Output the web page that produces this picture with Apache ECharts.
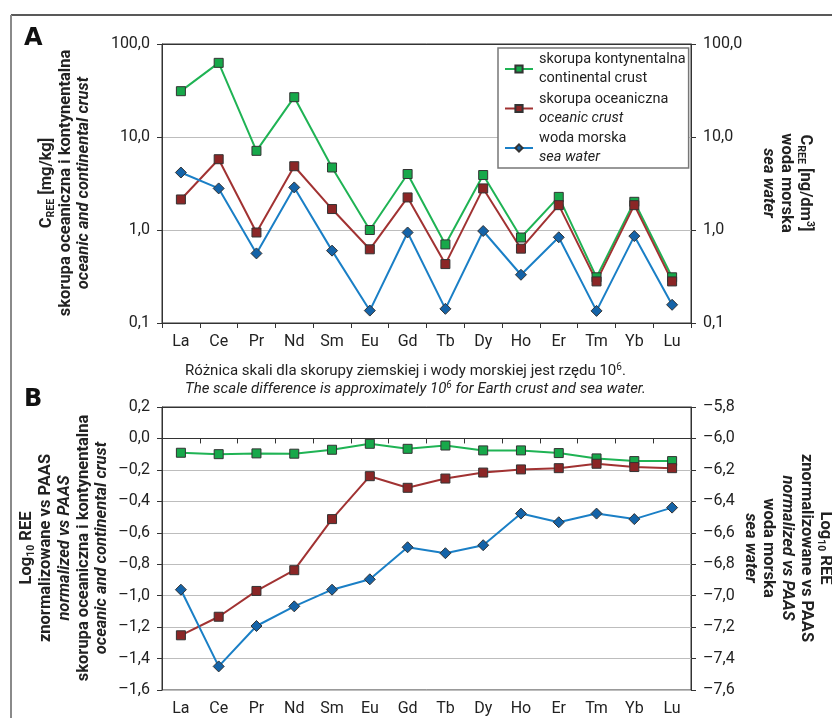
<!DOCTYPE html>
<html>
<head>
<meta charset="utf-8">
<script src="https://cdn.jsdelivr.net/npm/echarts@6/dist/echarts.min.js"></script>
<style>
  html, body { margin: 0; padding: 0; background: #fff; }
  #chart { width: 832px; height: 718px; }
</style>
</head>
<body>
<div id="chart"></div>
<script>
  // rare earth elements on the x axis
  var elements = ['La', 'Ce', 'Pr', 'Nd', 'Sm', 'Eu', 'Gd', 'Tb', 'Dy', 'Ho', 'Er', 'Tm', 'Yb', 'Lu'];

  // panel A: concentrations (crust in mg/kg, sea water in ng/dm3)
  var continentalA = [31.1, 62.7, 7.1, 26.8, 4.7, 1.0, 4.0, 0.70, 3.9, 0.83, 2.27, 0.31, 2.01, 0.31];
  var oceanicA = [2.13, 5.77, 0.94, 4.85, 1.68, 0.62, 2.24, 0.43, 2.8, 0.63, 1.85, 0.28, 1.85, 0.28];
  var seaWaterA = [4.15, 2.8, 0.56, 2.87, 0.60, 0.136, 0.94, 0.142, 0.975, 0.33, 0.835, 0.135, 0.86, 0.157];

  // panel B: log10 REE normalized vs PAAS (sea water on the right axis)
  var continentalB = [-0.091, -0.100, -0.095, -0.097, -0.072, -0.034, -0.066, -0.045, -0.076, -0.076, -0.093, -0.127, -0.144, -0.144];
  var oceanicB = [-1.252, -1.134, -0.970, -0.838, -0.513, -0.240, -0.314, -0.255, -0.217, -0.197, -0.189, -0.161, -0.182, -0.189];
  var seaWaterB = [-6.962, -7.450, -7.193, -7.068, -6.962, -6.896, -6.692, -6.730, -6.679, -6.478, -6.533, -6.478, -6.513, -6.440];

  // axis ranges
  var rangeA = [0.1, 100];
  var rangeBLeft = [-1.6, 0.2];
  var rangeBRight = [-7.6, -5.8];
  var stepB = 0.2;

  var seriesNames = ['skorupa kontynentalna', 'skorupa oceaniczna', 'woda morska'];
  var seriesSecondLine = {
    'skorupa kontynentalna': '{n|continental crust}',
    'skorupa oceaniczna': '{i|oceanic crust}',
    'woda morska': '{i|sea water}'
  };

  // axis titles, one entry per line; each line is a list of pieces [text, italic, kind]
  // kind: '' normal, 'sub' subscript, 'sup' superscript
  var cree = function (unit) { return [['C', false, ''], ['REE', false, 'sub'], [' [' + unit, false, '']]; };
  var log10 = [['Log', false, ''], ['10', false, 'sub'], [' REE', false, '']];
  var titleLeftA = [cree('mg/kg]'), [['skorupa oceaniczna i kontynentalna', false, '']], [['oceanic and continental crust', true, '']]];
  var titleRightA = [cree('ng/dm').concat([['3', false, 'sup'], [']', false, '']]), [['woda morska', false, '']], [['sea water', true, '']]];
  var titleLeftB = [log10, [['znormalizowane vs PAAS', false, '']], [['normalized vs PAAS', true, '']],
                    [['skorupa oceaniczna i kontynentalna', false, '']], [['oceanic and continental crust', true, '']]];
  var titleRightB = [log10, [['znormalizowane vs PAAS', false, '']], [['normalized vs PAAS', true, '']],
                     [['woda morska', false, '']], [['sea water', true, '']]];

  var FONT = "Roboto, 'Liberation Sans', sans-serif";
  var AXIS = '#333';
  var GRID_LINE = '#bdbdbd';
  var TXT = '#222';
  var NAME_SIZE = 16.5;
  var SMALL_SIZE = 10.5;

  var chart = echarts.init(document.getElementById('chart'));
  var measureCtx = document.createElement('canvas').getContext('2d');

  function fmt(v) {
    if (Math.abs(v) < 1e-9) v = 0;
    var s = (Math.round(v * 10) / 10).toFixed(1).replace('.', ',');
    return s.replace('-', '\u2013');
  }

  function fontOf(size, italic) {
    return (italic ? 'italic ' : '') + 'bold ' + size + 'px ' + FONT;
  }

  // one rotated line of an axis title, centred at (x, yc)
  // dir = 1: reads bottom-to-top (left side), dir = -1: reads top-to-bottom (right side)
  function titleLine(pieces, x, yc, dir) {
    var sizes = pieces.map(function (p) { return p[2] ? SMALL_SIZE : NAME_SIZE; });
    var widths = pieces.map(function (p, i) {
      measureCtx.font = fontOf(sizes[i], p[1]);
      return measureCtx.measureText(p[0]).width;
    });
    var total = widths.reduce(function (a, b) { return a + b; }, 0);
    var pos = -total / 2;
    return pieces.map(function (p, i) {
      var shift = p[2] === 'sub' ? 4 : (p[2] === 'sup' ? -5 : 0);
      var el = {
        type: 'text',
        x: x + dir * shift,
        y: yc - dir * pos,
        rotation: dir * Math.PI / 2,
        style: {
          text: p[0],
          font: fontOf(sizes[i], p[1]),
          fill: TXT,
          align: 'left',
          verticalAlign: 'middle'
        }
      };
      pos += widths[i];
      return el;
    });
  }

  function axisTitle(lines, x0, step, yc, dir) {
    var out = [];
    lines.forEach(function (ln, i) {
      out = out.concat(titleLine(ln, x0 + i * step, yc, dir));
    });
    return out;
  }

  function xAxis(gridIndex) {
    return {
      type: 'category',
      gridIndex: gridIndex,
      data: elements,
      boundaryGap: true,
      axisLine: { lineStyle: { color: AXIS, width: 1 } },
      axisTick: { show: true, interval: 0, length: 5, lineStyle: { color: AXIS } },
      axisLabel: { interval: 0, margin: 11, fontFamily: FONT, fontSize: 16, color: TXT },
      splitLine: { show: false }
    };
  }

  function yAxis(opts) {
    var ax = {
      gridIndex: opts.grid,
      position: opts.position,
      type: opts.type,
      min: opts.min,
      max: opts.max,
      axisLine: { show: true, lineStyle: { color: AXIS, width: 1 } },
      axisTick: { show: true, length: 5, lineStyle: { color: AXIS } },
      axisLabel: { margin: 12, fontFamily: FONT, fontSize: 16, color: TXT, formatter: fmt },
      splitLine: { show: opts.split, lineStyle: { color: opts.splitColors, width: 1.2 } }
    };
    if (opts.type === 'log') ax.logBase = 10;
    else ax.interval = stepB;
    return ax;
  }

  function line(name, data, x, y, lineColor, fill, symbol, size) {
    return {
      name: name,
      type: 'line',
      xAxisIndex: x,
      yAxisIndex: y,
      data: data,
      symbol: symbol,
      symbolSize: size,
      lineStyle: { color: lineColor, width: 2 },
      itemStyle: { color: fill, borderColor: '#333', borderWidth: 1 },
      emphasis: { disabled: true }
    };
  }

  var splitA = [GRID_LINE, GRID_LINE, GRID_LINE, AXIS];
  var splitB = [];
  for (var k = 0; k < 9; k++) splitB.push(GRID_LINE);
  splitB.push(AXIS);

  var frame = [
    { type: 'line', shape: { x1: 11, y1: 15, x2: 832, y2: 15 }, style: { stroke: '#222', lineWidth: 1.5 } },
    { type: 'line', shape: { x1: 11, y1: 15, x2: 11, y2: 718 }, style: { stroke: '#8a8a8a', lineWidth: 2 } }
  ];
  var graphics = frame
    .concat(axisTitle(titleLeftA, 47, 18.5, 183, 1))
    .concat(axisTitle(titleRightA, 805, -18.5, 183, -1))
    .concat(axisTitle(titleLeftB, 27, 18.8, 548, 1))
    .concat(axisTitle(titleRightB, 825, -18.8, 548, -1));

  var option = {
    animation: false,
    backgroundColor: '#fff',
    textStyle: { fontFamily: FONT },
    title: [
      { text: 'A', left: 24, top: 27, padding: 0, textStyle: { fontFamily: 'DejaVu Sans', fontSize: 24, fontWeight: 900, color: '#111' } },
      { text: 'B', left: 24, top: 388, padding: 0, textStyle: { fontFamily: 'DejaVu Sans', fontSize: 24, fontWeight: 900, color: '#111' } },
      {
        text: 'Różnica skali dla skorupy ziemskiej i wody morskiej jest rzędu 10{sup|6}.\n' +
              '{i|The scale difference is approximately 10}{isup|6}{i| for Earth crust and sea water.}',
        left: 185, top: 362, padding: 0,
        textStyle: {
          fontFamily: FONT, fontSize: 15, fontWeight: 'normal', lineHeight: 18, color: TXT,
          rich: {
            i: { fontFamily: FONT, fontSize: 15, fontStyle: 'italic', lineHeight: 18, color: TXT },
            sup: { fontFamily: FONT, fontSize: 10, lineHeight: 11, verticalAlign: 'top', color: TXT },
            isup: { fontFamily: FONT, fontSize: 10, fontStyle: 'italic', lineHeight: 11, verticalAlign: 'top', color: TXT }
          }
        }
      }
    ],
    legend: {
      data: seriesNames,
      orient: 'vertical',
      left: 498,
      top: 48,
      padding: [2, 3, 1, 6],
      itemGap: 1.5,
      itemWidth: 28,
      itemHeight: 9,
      backgroundColor: '#fff',
      borderColor: '#777',
      borderWidth: 1.5,
      borderRadius: 0,
      selectedMode: false,
      formatter: function (name) { return '{n|' + name + '}\n' + seriesSecondLine[name]; },
      textStyle: {
        fontSize: 14.5,
        lineHeight: 19,
        padding: [0, 0, 0, 1],
        rich: {
          n: { fontFamily: FONT, fontSize: 14.5, lineHeight: 19, color: TXT },
          i: { fontFamily: FONT, fontSize: 14.5, fontStyle: 'italic', lineHeight: 19, color: TXT }
        }
      }
    },
    grid: [
      { left: 162, right: 141, top: 44, height: 279, show: true, borderColor: AXIS, borderWidth: 1 },
      { left: 162, right: 141, top: 407, height: 283, show: true, borderColor: AXIS, borderWidth: 1 }
    ],
    xAxis: [xAxis(0), xAxis(1)],
    yAxis: [
      yAxis({ grid: 0, position: 'left', type: 'log', min: rangeA[0], max: rangeA[1], split: true, splitColors: splitA }),
      yAxis({ grid: 0, position: 'right', type: 'log', min: rangeA[0], max: rangeA[1], split: false }),
      yAxis({ grid: 1, position: 'left', type: 'value', min: rangeBLeft[0], max: rangeBLeft[1], split: true, splitColors: splitB }),
      yAxis({ grid: 1, position: 'right', type: 'value', min: rangeBRight[0], max: rangeBRight[1], split: false })
    ],
    graphic: graphics,
    series: [
      line(seriesNames[0], continentalA, 0, 0, '#1fb354', '#17a84a', 'rect', 9),
      line(seriesNames[1], oceanicA, 0, 0, '#a13232', '#8b2626', 'rect', 9),
      line(seriesNames[2], seaWaterA, 0, 1, '#1a7fc6', '#1463a8', 'diamond', 11),
      line(seriesNames[0], continentalB, 1, 2, '#1fb354', '#17a84a', 'rect', 9),
      line(seriesNames[1], oceanicB, 1, 2, '#a13232', '#8b2626', 'rect', 9),
      line(seriesNames[2], seaWaterB, 1, 3, '#1a7fc6', '#1463a8', 'diamond', 11)
    ]
  };

  chart.setOption(option);
</script>
</body>
</html>
